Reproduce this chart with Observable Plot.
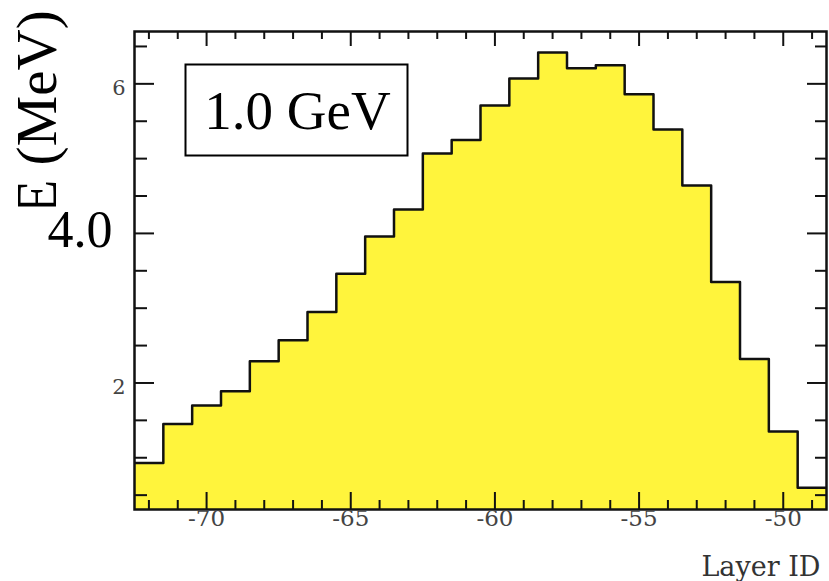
<!DOCTYPE html>
<html>
<head>
<meta charset="utf-8">
<script src="https://cdn.jsdelivr.net/npm/d3@7"></script>
<script src="https://cdn.jsdelivr.net/npm/@observablehq/plot@0.6"></script>
<style>
  html, body { margin: 0; padding: 0; background: #fff; }
  #chart svg { display: block; }
</style>
</head>
<body>
<div id="chart"></div>
<script>
// ---- data ----
const layers = [-72, -71, -70, -69, -68, -67, -66, -65, -64, -63, -62, -61,
                -60, -59, -58, -57, -56, -55, -54, -53, -52, -51, -50, -49];
const energy = [0.93, 1.45, 1.70, 1.89, 2.29, 2.57, 2.95, 3.46, 3.96, 4.32, 5.07, 5.25,
                5.71, 6.07, 6.42, 6.21, 6.25, 5.86, 5.39, 4.64, 3.35, 2.32, 1.35, 0.60];
const xMajorTicks = [-70, -65, -60, -55, -50];
const xMinorTicks = [-72, -71, -69, -68, -67, -66, -64, -63, -62, -61, -59, -58, -57, -56, -54, -53, -52, -51, -49];
const yMajorTicks = [2, 4, 6];
const yMinorTicks = [0.5, 1, 1.5, 2.5, 3, 3.5, 4.5, 5, 5.5, 6.5];
const yTickLabels = ["2", "4.0", "6"];
const xLabel = "Layer ID";
const yLabel = "E (MeV)";
const beamLabel = "1.0 GeV";

// ---- layout ----
const W = 829, H = 581;
const mL = 134, mR = 3, mT = 31, mB = 72;
const fw = W - mL - mR, fh = H - mT - mB;
const serif = "Liberation Serif, Times New Roman, serif";
const wideSerif = "DejaVu Serif, serif";

// outline points of the step histogram (bin low edges + final upper edge)
const outline = layers.map((l, i) => ({x: l - 0.5, y: energy[i]}));
outline.push({x: layers[layers.length - 1] + 0.5, y: energy[energy.length - 1]});

const yTicks = yMajorTicks.map((v, i) => ({v, t: yTickLabels[i]}));

const plot = Plot.plot({
  width: W, height: H,
  marginLeft: mL, marginRight: mR, marginTop: mT, marginBottom: mB,
  x: {domain: [-72.5, -48.5], axis: null},
  y: {domain: [0.308, 6.70], axis: null},
  style: {background: "#fff"},
  marks: [
    Plot.areaY(outline, {x: "x", y: "y", curve: "step-after", fill: "#fff43c", clip: "frame"}),
    Plot.line(outline, {x: "x", y: "y", curve: "step-after", stroke: "#111", strokeWidth: 2.5, clip: "frame"}),
    // ticks (inside the frame)
    Plot.ruleX(xMajorTicks, {x: d => d, insetTop: fh - 17, stroke: "#111", strokeWidth: 2}),
    Plot.ruleX(xMinorTicks, {x: d => d, insetTop: fh - 9, stroke: "#111", strokeWidth: 2}),
    Plot.ruleX(xMajorTicks, {x: d => d, insetBottom: fh - 15, stroke: "#111", strokeWidth: 2}),
    Plot.ruleX(xMinorTicks, {x: d => d, insetBottom: fh - 8, stroke: "#111", strokeWidth: 2}),
    Plot.ruleY(yMajorTicks, {y: d => d, insetRight: fw - 20, stroke: "#111", strokeWidth: 2}),
    Plot.ruleY(yMinorTicks, {y: d => d, insetRight: fw - 13, stroke: "#111", strokeWidth: 2}),
    Plot.ruleY(yMajorTicks, {y: d => d, insetLeft: fw - 19, stroke: "#111", strokeWidth: 2}),
    Plot.ruleY(yMinorTicks, {y: d => d, insetLeft: fw - 11, stroke: "#111", strokeWidth: 2}),
    Plot.frame({stroke: "#111", strokeWidth: 2.5}),
    // x tick labels
    Plot.text(xMajorTicks, {x: d => d, text: d => String(d), frameAnchor: "bottom", dy: 16,
      fontSize: 23, fontFamily: wideSerif, fill: "#444"}),
    // y tick labels
    Plot.text(yTicks.filter(d => d.t !== "4.0"), {y: "v", text: "t", frameAnchor: "left", textAnchor: "end",
      dx: -9, dy: 4.5, fontSize: 21, fontFamily: wideSerif, fill: "#444"}),
    // axis titles
    Plot.text([xLabel], {text: d => d, frameAnchor: "bottom-right", textAnchor: "end", lineAnchor: "bottom",
      dx: -6, dy: 66, fontSize: 27, fontFamily: wideSerif, fill: "#333"}),
    Plot.text([yLabel], {text: d => d, frameAnchor: "top-left", textAnchor: "start", lineAnchor: "bottom",
      rotate: -90, dx: 55 - mL, dy: 214 - mT, fontSize: 57, fontFamily: serif, fill: "#000"}),
    // large "4.0" tick label drawn over the title
    Plot.text(yTicks.filter(d => d.t === "4.0"), {y: "v", text: "t", frameAnchor: "left", textAnchor: "end",
      dx: -22, dy: -3, fontSize: 52, fontFamily: serif, fill: "#000"}),
    // beam energy label
    Plot.text([beamLabel], {text: d => d, frameAnchor: "top-left", textAnchor: "middle", lineAnchor: "bottom",
      dx: 297 - mL, dy: 128 - mT, fontSize: 55, fontFamily: serif, fill: "#000"})
  ]
});

document.getElementById("chart").appendChild(plot);

const svg = d3.select(plot);
function parentOfText(label) {
  const n = svg.selectAll("text").filter(function() { return this.textContent === label; }).node();
  return n ? d3.select(n.parentNode) : null;
}
// box around the beam energy label
const gBeam = parentOfText(beamLabel);
if (gBeam) {
  gBeam.insert("rect", ":first-child")
    .attr("x", 185).attr("y", 64).attr("width", 222).attr("height", 91)
    .attr("transform", "translate(" + (-(297 - mL)) + "," + (-(128 - mT)) + ")")
    .attr("fill", "#fff").attr("stroke", "#000").attr("stroke-width", 2);
}
// white backing behind the large "4.0" label (it hides the lower part of the title)
const gFour = parentOfText("4.0");
if (gFour) {
  gFour.insert("rect", ":first-child")
    .attr("x", 0).attr("y", 206).attr("width", 126).attr("height", 50)
    .attr("transform", "translate(" + (-(-22)) + "," + (-(-3)) + ")")
    .attr("fill", "#fff");
}
</script>
</body>
</html>
